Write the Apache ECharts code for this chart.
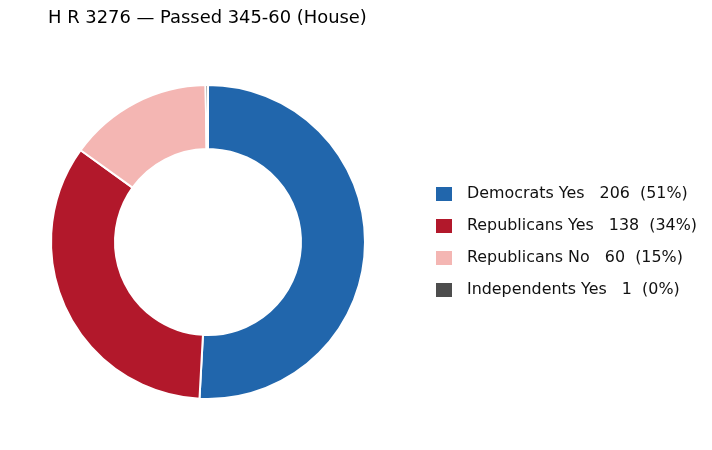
<!DOCTYPE html>
<html><head><meta charset="utf-8">
<script src="https://cdn.jsdelivr.net/npm/echarts@6/dist/echarts.min.js"></script>
<style>html,body{margin:0;padding:0;background:#fff}#c{width:712px;height:450px}</style>
</head><body><div id="c"></div>
<script>
const titleText = "H R 3276 — Passed 345-60 (House)";
const categories = ["Democrats Yes", "Republicans Yes", "Republicans No", "Independents Yes"];
const votes = [206, 138, 60, 1];
const colors = ["#2166ac", "#b2182b", "#f4b6b3", "#4d4d4d"];

const total = votes.reduce((a, b) => a + b, 0);
const labelMap = {};
categories.forEach((c, i) => {
  labelMap[c] = c + "   " + votes[i] + "  (" + Math.round(votes[i] / total * 100) + "%)";
});

const chart = echarts.init(document.getElementById('c'), null, {renderer: 'canvas'});
chart.setOption({
  animation: false,
  title: {
    text: titleText, left: 48, top: 9, padding: 0,
    textStyle: {fontFamily: 'DejaVu Sans', fontSize: 17.9, fontWeight: 'normal', color: '#000', lineHeight: 18}
  },
  legend: {
    orient: 'vertical', left: 436, top: 186, padding: 0,
    itemWidth: 16, itemHeight: 14, itemGap: 16,
    icon: 'rect',
    itemStyle: {borderWidth: 0},
    textStyle: {fontFamily: 'DejaVu Sans', fontSize: 15.9, color: '#111', lineHeight: 16, padding: [0,0,0,10]},
    formatter: name => labelMap[name],
    data: categories
  },
  color: colors,
  series: [{
    type: 'pie',
    center: [208, 242],
    radius: [93, 157],
    startAngle: 90,
    clockwise: true,
    label: {show: false},
    labelLine: {show: false},
    silent: true,
    itemStyle: {borderColor: '#fff', borderWidth: 2},
    data: categories.map((c, i) => ({name: c, value: votes[i]}))
  }]
});
</script></body></html>
